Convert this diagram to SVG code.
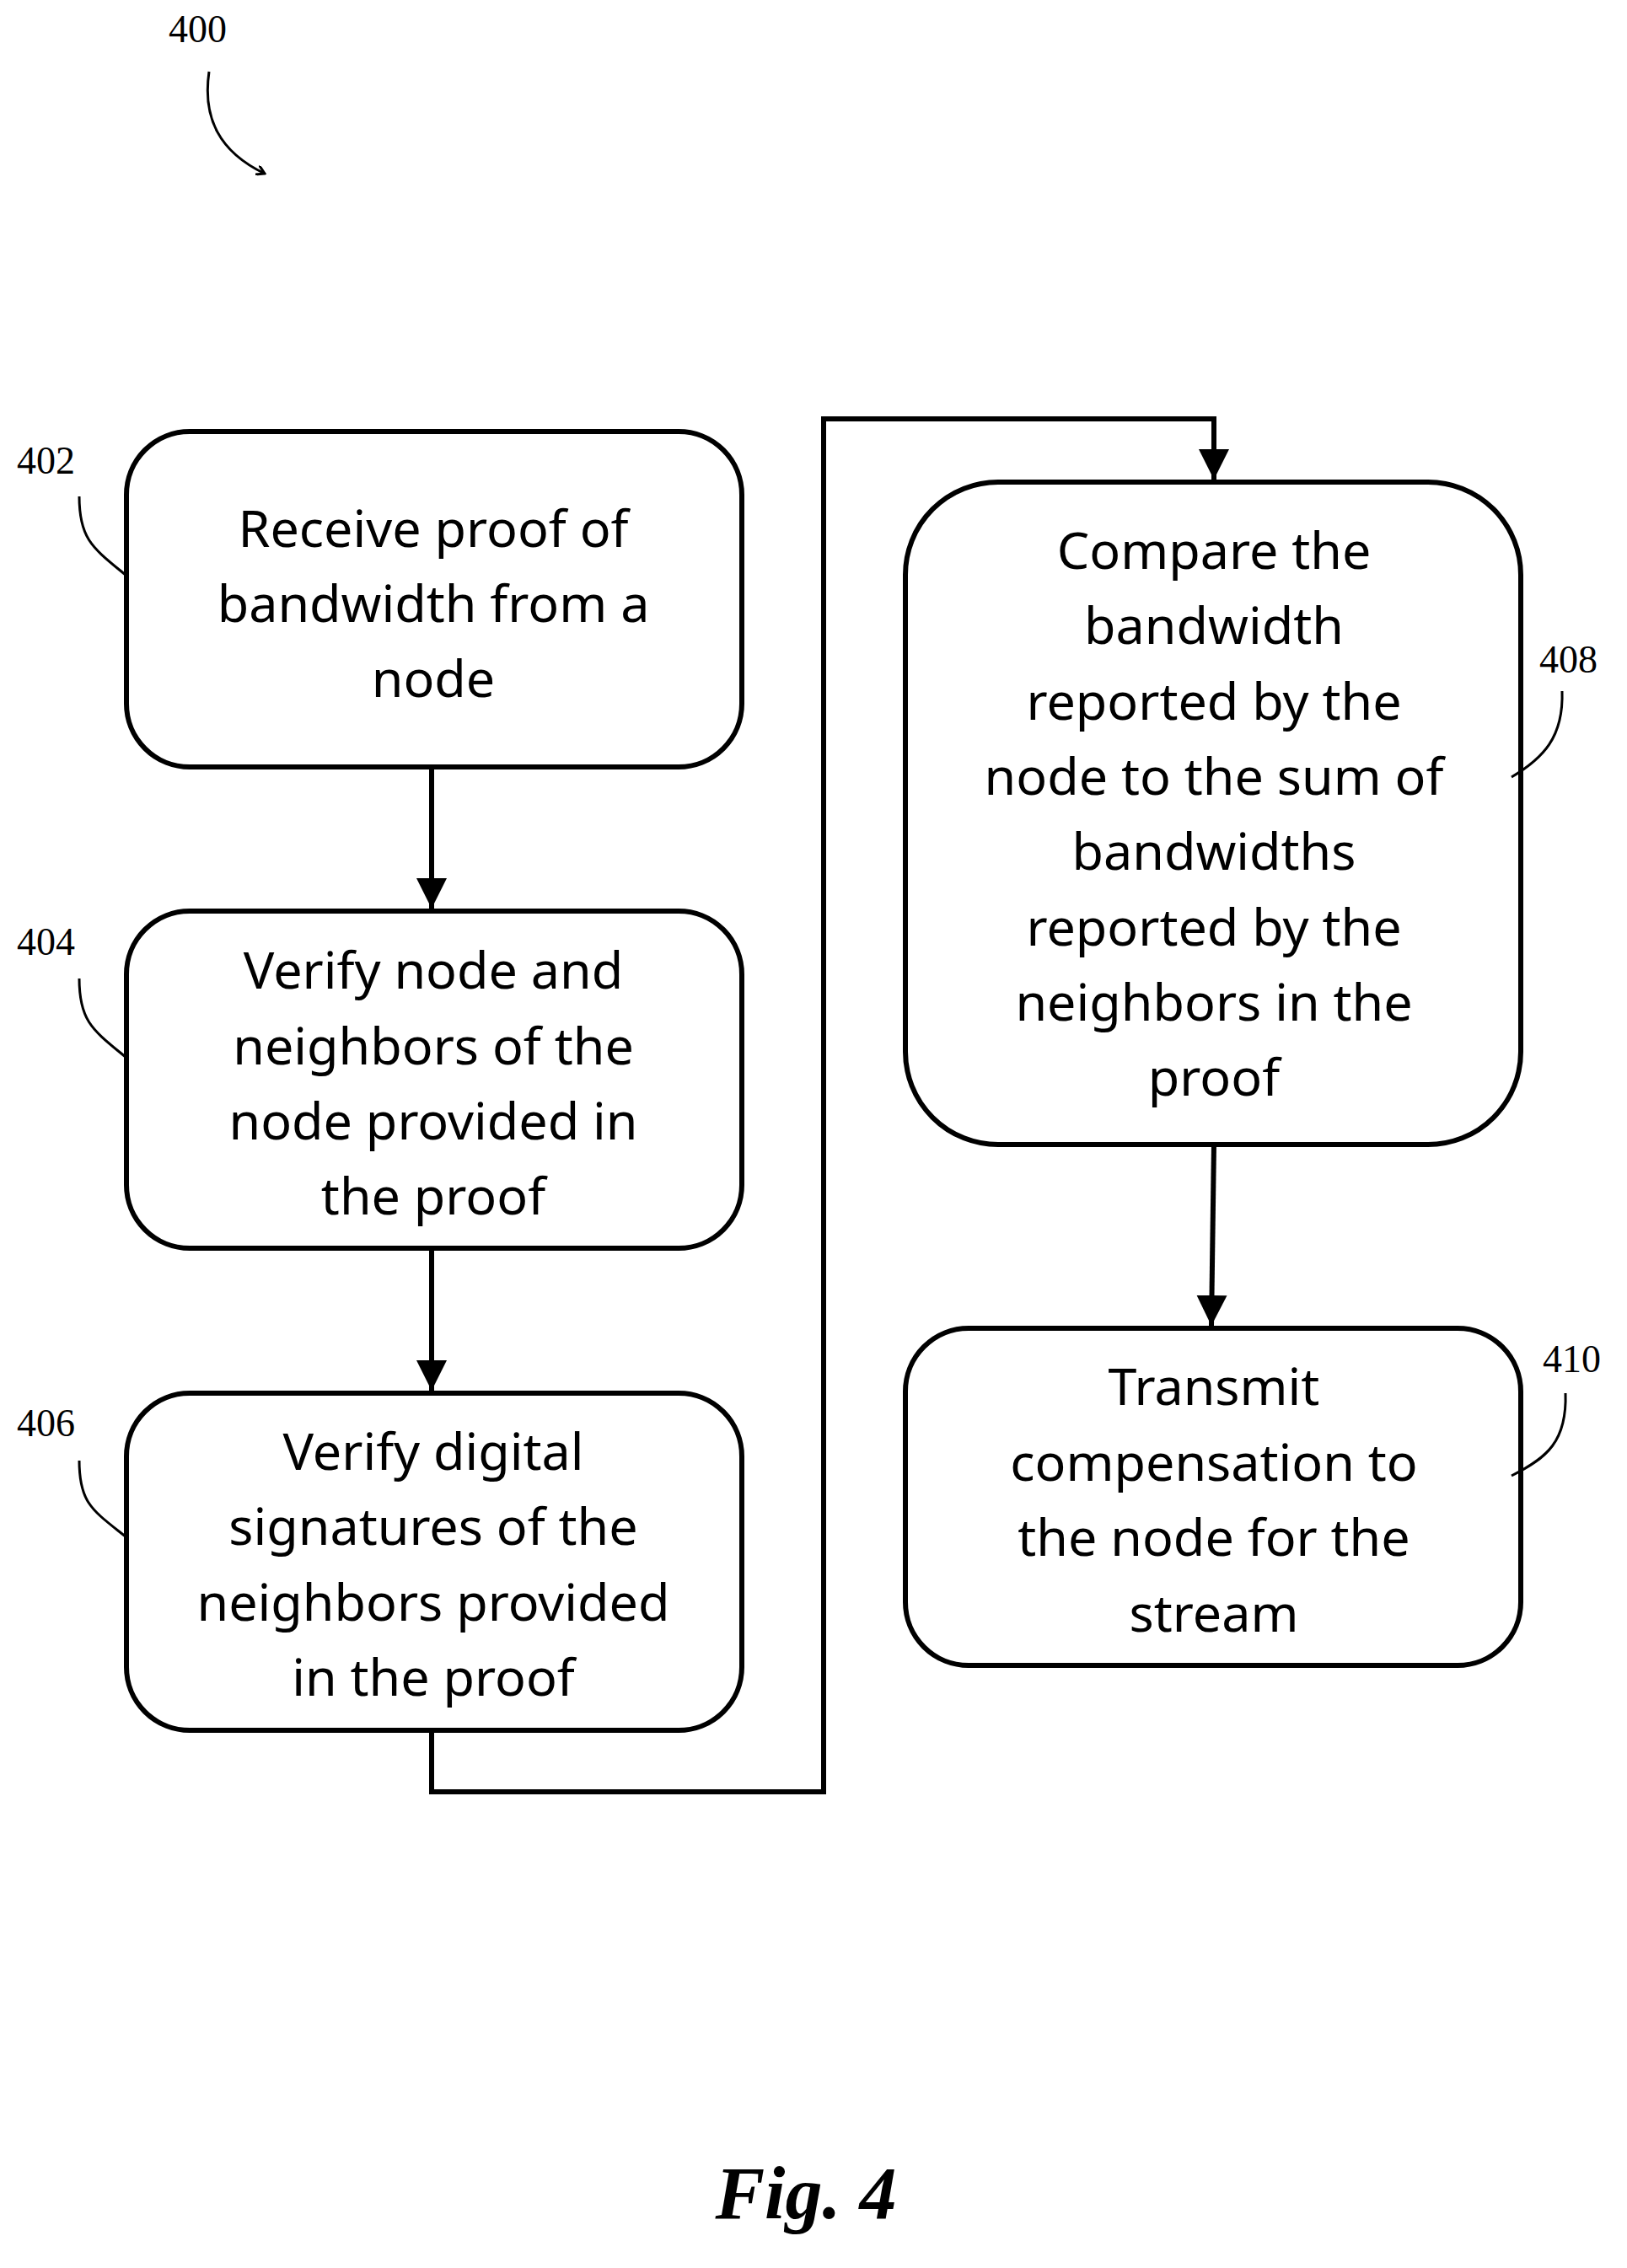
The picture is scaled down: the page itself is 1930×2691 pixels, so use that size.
<svg xmlns="http://www.w3.org/2000/svg" width="1930" height="2691" viewBox="0 0 1930 2691">
<style>
.b{fill:#fff;stroke:#000;stroke-width:6}
.t{font-family:"Noto Sans","Open Sans",sans-serif;font-size:61px;text-anchor:middle;fill:#000}
.r{font-family:"Liberation Serif",serif;font-size:46px;fill:#000}
.c{fill:none;stroke:#000;stroke-width:6}
.l{fill:none;stroke:#000;stroke-width:3}
</style>
<defs>
<marker id="a" markerWidth="8" markerHeight="8" refX="6" refY="4" orient="auto" markerUnits="strokeWidth"><path d="M0,1 L6,4 L0,7 Z" fill="#000"/></marker>
<marker id="s" markerWidth="12" markerHeight="12" refX="10" refY="6" orient="auto" markerUnits="userSpaceOnUse"><path d="M0,0 L10,6 L0,12" fill="none" stroke="#000" stroke-width="3"/></marker>
</defs>
<g id="ref400"><text class="r" x="200" y="50">400</text><path class="l" d="M248,85 C240,140 260,180 314,206" marker-end="url(#s)"/></g>
<g id="n402"><rect class="b" x="150" y="512" width="730" height="398" rx="75"/>
<text class="t"><tspan x="514" y="649">Receive proof of</tspan><tspan x="514" y="738">bandwidth from a</tspan><tspan x="514" y="827">node</tspan></text>
<text class="r" x="20" y="562">402</text><path class="l" d="M94,589 C94,640 110,650 150,683"/></g>
<g id="n404"><rect class="b" x="150" y="1081" width="730" height="400" rx="75"/>
<text class="t"><tspan x="514" y="1173">Verify node and</tspan><tspan x="514" y="1263">neighbors of the</tspan><tspan x="514" y="1352">node provided in</tspan><tspan x="514" y="1441">the proof</tspan></text>
<text class="r" x="20" y="1133">404</text><path class="l" d="M94,1161 C94,1212 110,1222 150,1255"/></g>
<g id="n406"><rect class="b" x="150" y="1653" width="730" height="400" rx="75"/>
<text class="t"><tspan x="514" y="1744">Verify digital</tspan><tspan x="514" y="1833">signatures of the</tspan><tspan x="514" y="1923">neighbors provided</tspan><tspan x="514" y="2012">in the proof</tspan></text>
<text class="r" x="20" y="1704">406</text><path class="l" d="M94,1733 C94,1784 110,1792 150,1824"/></g>
<g id="n408"><rect class="b" x="1074" y="572" width="730" height="786" rx="110"/>
<text class="t"><tspan x="1440" y="675">Compare the</tspan><tspan x="1440" y="764">bandwidth</tspan><tspan x="1440" y="854">reported by the</tspan><tspan x="1440" y="943">node to the sum of</tspan><tspan x="1440" y="1032">bandwidths</tspan><tspan x="1440" y="1122">reported by the</tspan><tspan x="1440" y="1211">neighbors in the</tspan><tspan x="1440" y="1300">proof</tspan></text>
<text class="r" x="1826" y="798">408</text><path class="l" d="M1853,820 C1855,875 1830,900 1793,922"/></g>
<g id="n410"><rect class="b" x="1074" y="1576" width="730" height="400" rx="75"/>
<text class="t"><tspan x="1440" y="1667">Transmit</tspan><tspan x="1440" y="1757">compensation to</tspan><tspan x="1440" y="1846">the node for the</tspan><tspan x="1440" y="1936">stream</tspan></text>
<text class="r" x="1830" y="1628">410</text><path class="l" d="M1857,1653 C1859,1710 1835,1730 1793,1751"/></g>
<g id="connectors">
<path class="c" d="M512,910 V1078" marker-end="url(#a)"/>
<path class="c" d="M512,1481 V1650" marker-end="url(#a)"/>
<path class="c" d="M512,2053 V2126 H977 V497 H1440 V569" marker-end="url(#a)"/>
<path class="c" d="M1440,1358 L1437,1573" marker-end="url(#a)"/>
</g>
<text x="956" y="2632" font-family="Liberation Serif,serif" font-size="88" font-weight="bold" font-style="italic" text-anchor="middle">Fig. 4</text>
</svg>
